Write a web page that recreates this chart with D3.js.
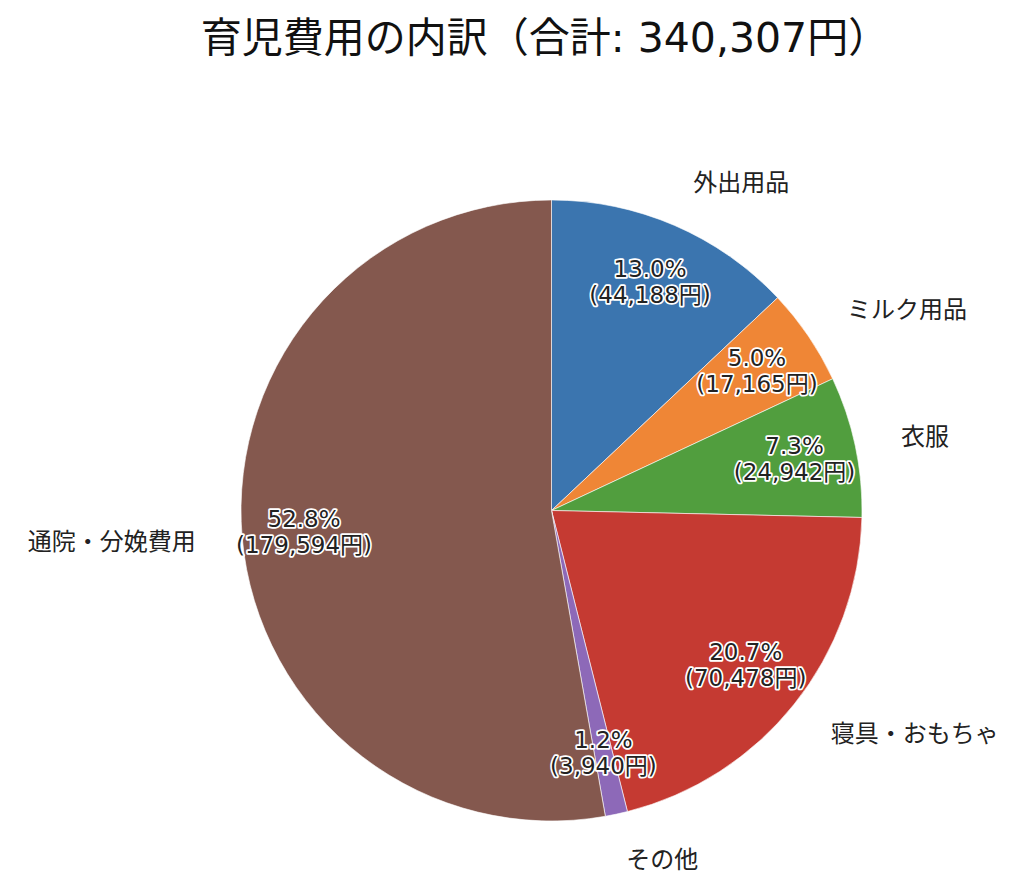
<!DOCTYPE html>
<meta charset="utf-8">
<script src="https://d3js.org/d3.v7.min.js"></script>
<style>
  body { margin: 0; background: #fff; }
  text { font-family: "DejaVu Sans", "Noto Sans CJK JP", sans-serif; }
</style>
<div id="chart"></div>
<script>

// data
var categories = ["外出用品", "ミルク用品", "衣服", "寝具・おもちゃ", "その他", "通院・分娩費用"];
var amounts = [44188, 17165, 24942, 70478, 3940, 179594];
var colors = ["#3b75af", "#ef8636", "#519e3e", "#c53a32", "#8d69b8", "#84584e"];
var titleText = "育児費用の内訳（合計: 340,307円）";

var width = 1024, height = 880;
var cx = 551.5, cy = 510.5, radius = 310.5;

var svg = d3.select("#chart")
  .append("svg")
    .attr("width", width)
    .attr("height", height);

// title
svg.append("text")
  .attr("x", 545)
  .attr("y", 38)
  .attr("text-anchor", "middle")
  .attr("dominant-baseline", "central")
  .style("font-size", "41px")
  .style("fill", "#111")
  .text(titleText);

var total = d3.sum(amounts);
var table = categories.map(function(c, i) {
  return {name: c, value: amounts[i], color: colors[i]};
});

var pie = d3.pie()
  .sort(null)
  .value(d => d.value)
  .startAngle(0)
  .endAngle(2 * Math.PI);

var arc = d3.arc()
  .innerRadius(0)
  .outerRadius(radius);

var g = svg.append("g")
  .attr("transform", "translate(" + cx + "," + cy + ")");

var slices = pie(table);

// wedges
g.selectAll("path")
  .data(slices)
  .enter()
  .append("path")
    .attr("d", arc)
    .style("fill", d => d.data.color)
    .style("stroke", "#fff")
    .style("stroke-width", 0.6);

// point at a given distance on the middle of a slice
function midPoint(d, r) {
  var a = (d.startAngle + d.endAngle) / 2;
  return [r * Math.sin(a), -r * Math.cos(a)];
}

// outer category labels
g.selectAll(".cat")
  .data(slices)
  .enter()
  .append("text")
    .attr("class", "cat")
    .attr("x", d => midPoint(d, radius * 1.15)[0])
    .attr("y", d => midPoint(d, radius * 1.15)[1] - 2)
    .attr("text-anchor", d => midPoint(d, 1)[0] >= 0 ? "start" : "end")
    .attr("dominant-baseline", "central")
    .style("font-family", "'Noto Sans CJK JP', sans-serif")
    .style("font-size", "24px")
    .style("fill", "#222")
    .text(d => d.data.name);

// percent + amount labels inside
var fmt = d3.format(",");
var pct = g.selectAll(".pct")
  .data(slices)
  .enter()
  .append("text")
    .attr("class", "pct")
    .attr("text-anchor", "middle")
    .attr("transform", d => "translate(" + midPoint(d, radius * 0.8) + ")")
    .style("font-size", "23px")
    .style("fill", "#222")
    .style("stroke", "#fff")
    .style("stroke-width", 3.5)
    .style("stroke-linejoin", "round")
    .style("paint-order", "stroke");

pct.append("tspan")
  .attr("x", 0)
  .attr("y", -13)
  .attr("dominant-baseline", "central")
  .text(d => (d.data.value / total * 100).toFixed(1) + "%");

pct.append("tspan")
  .attr("x", 0)
  .attr("y", 13)
  .attr("dominant-baseline", "central")
  .text(d => "(" + fmt(d.data.value) + "円)");

</script>
